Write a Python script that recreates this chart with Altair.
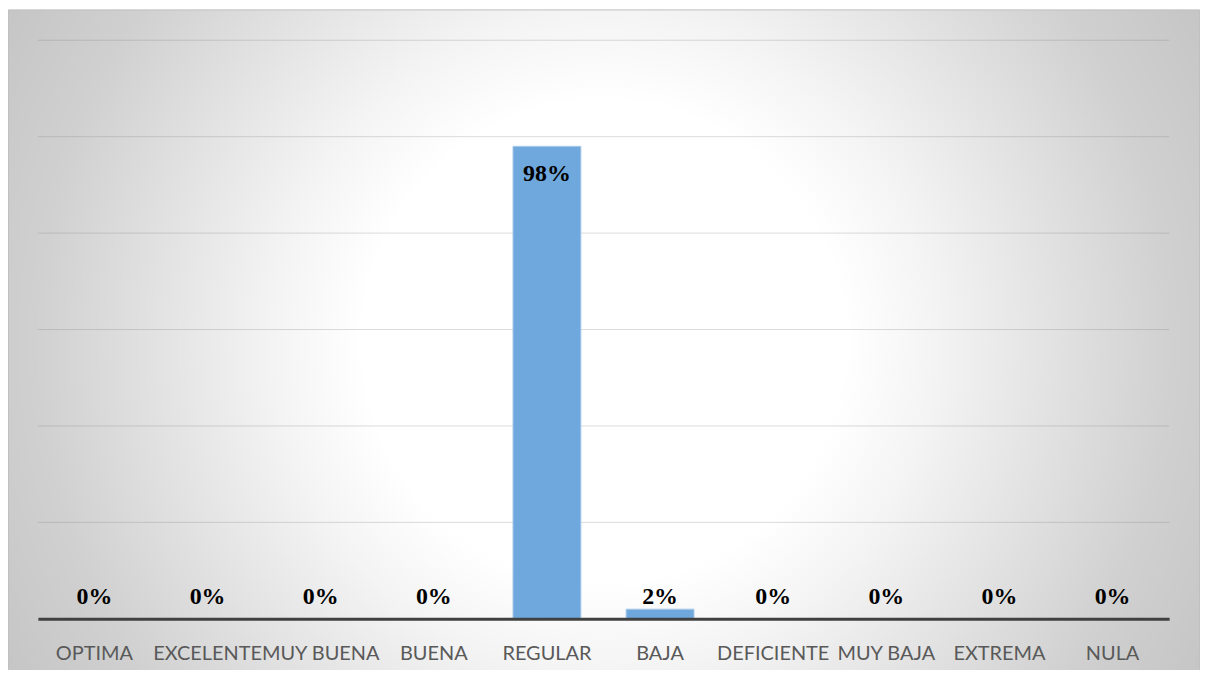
import altair as alt
import pandas as pd

categories = ["OPTIMA", "EXCELENTE", "MUY BUENA", "BUENA", "REGULAR",
              "BAJA", "DEFICIENTE", "MUY BAJA", "EXTREMA", "NULA"]
percentages = [0, 0, 0, 0, 98, 2, 0, 0, 0, 0]
grid_ticks = [20, 40, 60, 80, 100, 120]
y_max = 120

W, H = 1136, 581
PAD = {"left": 30, "top": 31, "right": 31, "bottom": 50}

df = pd.DataFrame({"cat": categories, "pct": percentages})
grid_df = pd.DataFrame({"tick": grid_ticks})
bg_df = pd.DataFrame({"k": [0]})

x_enc = alt.X("cat:N", sort=categories,
              scale=alt.Scale(paddingInner=0.4, paddingOuter=0.2),
              axis=alt.Axis(title=None, labelAngle=0, ticks=False,
                            domainColor="#404040", domainWidth=3,
                            labelFont="Lato", labelFontSize=20,
                            labelColor="#595959", labelPadding=25,
                            labelOverlap=False, labelLimit=400, zindex=1))
y_scale = alt.Scale(domain=[0, y_max], nice=False)

gradient = alt.RadialGradient(
    gradient="radial",
    stops=[alt.GradientStop(color="#ffffff", offset=0),
           alt.GradientStop(color="#ffffff", offset=0.35),
           alt.GradientStop(color="#f4f4f4", offset=0.48),
           alt.GradientStop(color="#d0d0d0", offset=0.83),
           alt.GradientStop(color="#c5c5c5", offset=1)],
    x1=0.5, y1=0.5, r1=0, x2=0.5, y2=0.5, r2=0.576)

bg = alt.Chart(bg_df).mark_rect(fill=gradient, stroke="#c0c0c0", strokeWidth=1).encode(
    x=alt.value(-PAD["left"] + 0.5), x2=alt.value(W + PAD["right"] - 0.5),
    y=alt.value(-PAD["top"] + 0.5), y2=alt.value(H + PAD["bottom"] + 5))

grid = alt.Chart(grid_df).mark_rule(color="#808080", opacity=0.28, strokeWidth=1).encode(
    y=alt.Y("tick:Q", scale=y_scale, axis=None))

bars = alt.Chart(df).mark_bar(color="#6fa8dc", stroke="#a9c9ea", strokeWidth=1).encode(
    x=x_enc,
    y=alt.Y("pct:Q", scale=y_scale, axis=None))

base_text = alt.Chart(df).transform_calculate(
    label="datum.pct + '%'", anchor="max(datum.pct, 2)")

text_out = base_text.transform_filter("datum.pct < 50").mark_text(
    font="Liberation Serif", fontWeight="bold", fontSize=24, color="#000000",
    baseline="alphabetic", dy=-5).encode(
    x=alt.X("cat:N", sort=categories), y=alt.Y("anchor:Q", scale=y_scale, axis=None),
    text="label:N")

text_in = base_text.transform_filter("datum.pct >= 50").mark_text(
    font="Liberation Serif", fontWeight="bold", fontSize=24, color="#000000",
    baseline="alphabetic", dy=35).encode(
    x=alt.X("cat:N", sort=categories), y=alt.Y("pct:Q", scale=y_scale, axis=None),
    text="label:N")

chart = alt.layer(bg, grid, bars, text_out, text_in).properties(
    width=W, height=H,
    autosize=alt.AutoSizeParams(type="none"),
    padding=PAD,
    background="#ffffff",
).configure_view(stroke=None)

chart.save("out.html", embed_options={"renderer": "svg", "actions": False})
